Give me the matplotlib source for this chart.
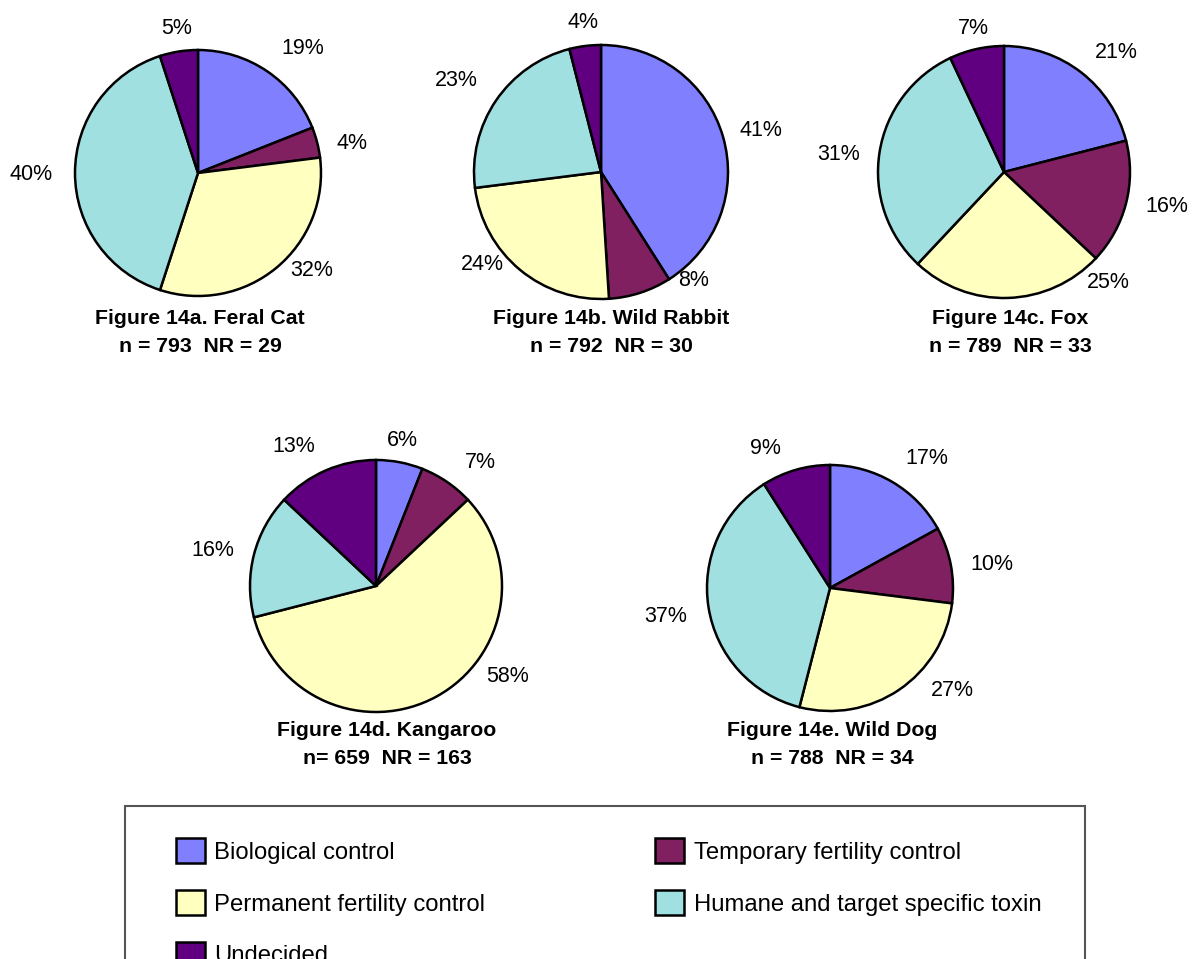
import matplotlib.pyplot as plt
from matplotlib.patches import Rectangle

plt.rcParams['font.family'] = ['Liberation Sans', 'DejaVu Sans']

categories = ["Biological control", "Temporary fertility control",
              "Permanent fertility control", "Humane and target specific toxin",
              "Undecided"]
colors = ["#8080FF", "#802060", "#FFFFC0", "#A0E0E0", "#600080"]

feral_cat = [19, 4, 32, 40, 5]
wild_rabbit = [41, 8, 24, 23, 4]
fox = [21, 16, 25, 31, 7]
kangaroo = [6, 7, 58, 16, 13]
wild_dog = [17, 10, 27, 37, 9]

titles = ["Figure 14a. Feral Cat", "Figure 14b. Wild Rabbit", "Figure 14c. Fox",
          "Figure 14d. Kangaroo", "Figure 14e. Wild Dog"]
subtitles = ["n = 793  NR = 29", "n = 792  NR = 30", "n = 789  NR = 33",
             "n= 659  NR = 163", "n = 788  NR = 34"]
series = [feral_cat, wild_rabbit, fox, kangaroo, wild_dog]

W, H = 1195, 959
fig = plt.figure(figsize=(W / 100, H / 100), dpi=100)

# pie centre (px), radius (px), title centre x (px), title top y (px)
layout = [
    (198, 173, 123, 200, 318),
    (601, 172, 127, 611, 318),
    (1004, 172, 126, 1010, 318),
    (376, 586, 126, 387, 730),
    (830, 588, 123, 832, 730),
]
# percent label offsets from pie centre (px, y downwards), excel-style placement
label_offsets = [
    [(105, -127), (154, -32), (114, 95), (-167, -1), (-21, -147)],
    [(160, -44), (93, 106), (-119, 89), (-145, -94), (-18, -153)],
    [(112, -123), (163, 32), (104, 107), (-165, -20), (-31, -147)],
    [(26, -149), (104, -126), (132, 87), (-163, -39), (-82, -143)],
    [(97, -132), (162, -27), (122, 99), (-164, 25), (-65, -143)],
]
LIM = 1.5
TEXT_NUDGE = 3  # px, matplotlib centres on the full text box

wedges_first = None
for vals, title, sub, (cx, cy, r, tx, ty), offs in zip(series, titles, subtitles,
                                                       layout, label_offsets):
    size = 2 * LIM * r
    ax = fig.add_axes([(cx - size / 2) / W, 1 - (cy + size / 2) / H, size / W, size / H])
    wedges, _, autotexts = ax.pie(
        vals, colors=colors, startangle=90, counterclock=False,
        autopct=lambda p: f"{p:.0f}%", pctdistance=1.27,
        wedgeprops=dict(edgecolor="black", linewidth=1.8),
        textprops=dict(fontsize=15.5, color="black"))
    for t, (dx, dy) in zip(autotexts, offs):
        t.set_position((dx / r, -(dy + TEXT_NUDGE) / r))
    ax.set_xlim(-LIM, LIM)
    ax.set_ylim(-LIM, LIM)
    ax.set_aspect("equal")
    ax.axis("off")
    if wedges_first is None:
        wedges_first = wedges
    fig.text(tx / W, 1 - ty / H, title, ha="center", va="center",
             fontsize=15.3, fontweight="bold")
    fig.text(tx / W, 1 - (ty + 28) / H, sub, ha="center", va="center",
             fontsize=15.3, fontweight="bold")

# legend frame (runs off the bottom of the figure)
fig.patches.append(Rectangle((125 / W, -0.05), 960 / W, (959 - 806) / H + 0.05,
                             transform=fig.transFigure, fill=False,
                             edgecolor="#555555", linewidth=1.5))

order = [0, 2, 4, 1, 3]
fig.legend([wedges_first[i] for i in order], [categories[i] for i in order],
           ncol=2, loc="upper left", bbox_to_anchor=(164 / W, 1 - 826 / H),
           frameon=False, fontsize=17.2, handlelength=1.2, handleheight=1.25,
           handletextpad=0.4, labelspacing=1.1, columnspacing=7.13, borderpad=0)

fig.savefig("out.png", dpi=100)
